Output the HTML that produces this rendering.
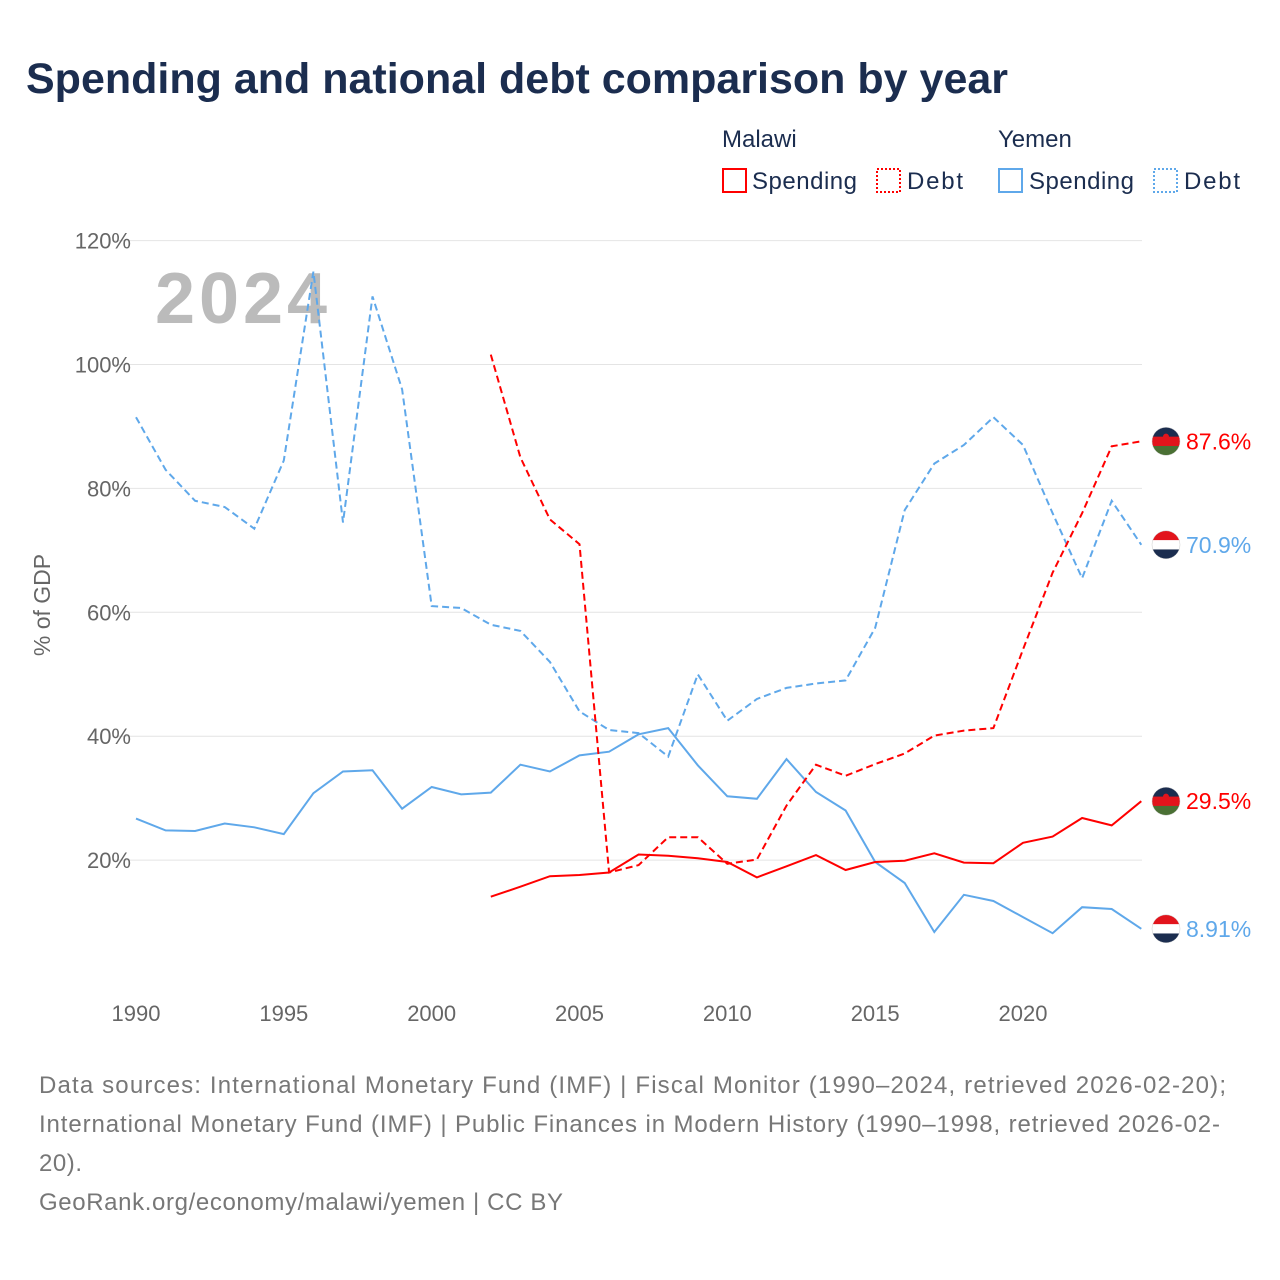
<!DOCTYPE html>
<html><head><meta charset="utf-8">
<style>
body{margin:0;background:#fff;font-family:"Liberation Sans",sans-serif;}
#wrap{position:relative;width:1280px;height:1280px;overflow:hidden;}
</style></head>
<body>
<div id="wrap">
<svg id="chart" width="1280" height="1280" font-family="Liberation Sans, sans-serif">
<text x="26" y="93" font-size="43" font-weight="bold" fill="#1b2d4f" textLength="982">Spending and national debt comparison by year</text>
<g font-size="24" fill="#1b2d4f">
<text x="722" y="147">Malawi</text>
<text x="998" y="147">Yemen</text>
<g><rect x="723" y="169" width="23" height="23" fill="none" stroke="#ff0000" stroke-width="2"/><text x="752" y="189" textLength="105">Spending</text></g>
<g><rect x="877" y="169" width="23" height="23" fill="none" stroke="#ff0000" stroke-width="2" stroke-dasharray="2,2"/><text x="907" y="189" textLength="56">Debt</text></g>
<g><rect x="999" y="169" width="23" height="23" fill="none" stroke="#5fa8ea" stroke-width="2"/><text x="1029" y="189" textLength="105">Spending</text></g>
<g><rect x="1154" y="169" width="23" height="23" fill="none" stroke="#5fa8ea" stroke-width="2" stroke-dasharray="2,2"/><text x="1184" y="189" textLength="56">Debt</text></g>
</g>
<g id="grid"></g>
<text x="155" y="323" font-size="72" font-weight="bold" fill="#bbb" textLength="172">2024</text>
<text transform="translate(50,605) rotate(-90)" text-anchor="middle" font-size="23" fill="#666">% of GDP</text>
<g id="series"></g>
<g id="ends"></g>
<g font-size="24" fill="#777">
<text x="39" y="1093" textLength="1187">Data sources: International Monetary Fund (IMF) | Fiscal Monitor (1990–2024, retrieved 2026-02-20);</text>
<text x="39" y="1132" textLength="1181">International Monetary Fund (IMF) | Public Finances in Modern History (1990–1998, retrieved 2026-02-</text>
<text x="39" y="1171" textLength="43">20).</text>
<text x="39" y="1210" textLength="524">GeoRank.org/economy/malawi/yemen | CC BY</text>
</g>
</svg>
</div>
<script>
const years=[1990,1991,1992,1993,1994,1995,1996,1997,1998,1999,2000,2001,2002,2003,2004,2005,2006,2007,2008,2009,2010,2011,2012,2013,2014,2015,2016,2017,2018,2019,2020,2021,2022,2023,2024];
const yemenDebt=[91.5,83,78,77,73.5,84.5,115,74.5,111,96,61,60.7,58,57,52,44,41,40.5,36.7,50,42.5,46,47.8,48.5,49,57.5,76.5,84,87,91.5,87,76,65.5,78,70.9];
const yemenSpending=[26.7,24.8,24.7,25.9,25.3,24.2,30.8,34.3,34.5,28.3,31.8,30.6,30.9,35.4,34.3,36.9,37.5,40.3,41.3,35.3,30.3,29.9,36.3,31,28,19.7,16.3,8.4,14.4,13.4,10.8,8.2,12.4,12.1,8.91];
const malawiYears=[2002,2003,2004,2005,2006,2007,2008,2009,2010,2011,2012,2013,2014,2015,2016,2017,2018,2019,2020,2021,2022,2023,2024];
const malawiDebt=[101.6,85,75,71,18,19.2,23.7,23.7,19.4,20.1,28.8,35.4,33.6,35.5,37.2,40.1,40.9,41.3,54,66.4,76,86.8,87.6];
const malawiSpending=[14.1,15.7,17.4,17.6,18,20.9,20.7,20.3,19.7,17.2,19,20.8,18.4,19.7,19.9,21.1,19.6,19.5,22.8,23.8,26.8,25.6,29.5];
const yTicks=[20,40,60,80,100,120];
const xTicks=[1990,1995,2000,2005,2010,2015,2020];
const endLabels=["87.6%","70.9%","29.5%","8.91%"];

const NS="http://www.w3.org/2000/svg";
const X=y=>136+(y-1990)*(1023-136)/30;
const Y=v=>984-v*6.195;
function mk(tag,attrs,parent){const e=document.createElementNS(NS,tag);for(const k in attrs)e.setAttribute(k,attrs[k]);parent.appendChild(e);return e;}
const grid=document.getElementById('grid');
yTicks.forEach(t=>{
  const l=mk('line',{x1:112,x2:1142,y1:Y(t),y2:Y(t),stroke:'#e4e4e4','stroke-width':1},grid);
  
  
  const tx=mk('text',{x:131,y:Y(t)+8,'text-anchor':'end','font-size':22,fill:'#666'},grid);
  tx.textContent=t+'%';
  
  
});
xTicks.forEach(t=>{
  const tx=mk('text',{x:X(t),y:1021,'text-anchor':'middle','font-size':22,fill:'#666'},grid);
  tx.textContent=t;
  
  
});
const ser=document.getElementById('series');
function line(xs,vs,color,dash,name){
  const d=xs.map((x,i)=>(i?'L':'M')+X(x).toFixed(1)+','+Y(vs[i]).toFixed(1)).join(' ');
  const p=mk('path',{d:d,fill:'none',stroke:color,'stroke-width':2,'stroke-dasharray':dash},ser);
  
  
}
const RED='#ff0000',BLUE='#5fa8ea';
line(years,yemenDebt,BLUE,'7,4','line-yemen-debt');
line(years,yemenSpending,BLUE,'none','line-yemen-spending');
line(malawiYears,malawiDebt,RED,'7,4','line-malawi-debt');
line(malawiYears,malawiSpending,RED,'none','line-malawi-spending');
const ends=document.getElementById('ends');
const endVals=[malawiDebt[malawiDebt.length-1],yemenDebt[yemenDebt.length-1],malawiSpending[malawiSpending.length-1],yemenSpending[yemenSpending.length-1]];
const endCountries=['malawi','yemen','malawi','yemen'];
const endNames=['end-label-malawi-debt','end-label-yemen-debt','end-label-malawi-spending','end-label-yemen-spending'];
endVals.forEach((v,i)=>{
  const cy=Y(v),cx=1166,r=14,c=endCountries[i];
  const g=mk('g',{},ends);
  
  
  const id='clip'+i;
  const cp=mk('clipPath',{id:id},g);mk('circle',{cx:cx,cy:cy,r:r},cp);
  const cols=c==='malawi'?['#1b2d4f','#e2141c','#4a7034']:['#e2141c','#ffffff','#1b2d4f'];
  cols.forEach((col,k)=>mk('rect',{x:cx-r,y:cy-r+k*2*r/3,width:2*r,height:2*r/3+0.5,fill:col,'clip-path':'url(#'+id+')'},g));
  if(c==='malawi')mk('circle',{cx:cx,cy:cy-r/3,r:3,fill:'#e2141c'},g);
  mk('circle',{cx:cx,cy:cy,r:r,fill:'none',stroke:'#ccc','stroke-width':0.5},g);
  const t=mk('text',{x:1186,y:cy+8,'font-size':23,fill:c==='malawi'?RED:BLUE},ends);
  t.textContent=endLabels[i];
  
  
});
</script>
</body></html>
